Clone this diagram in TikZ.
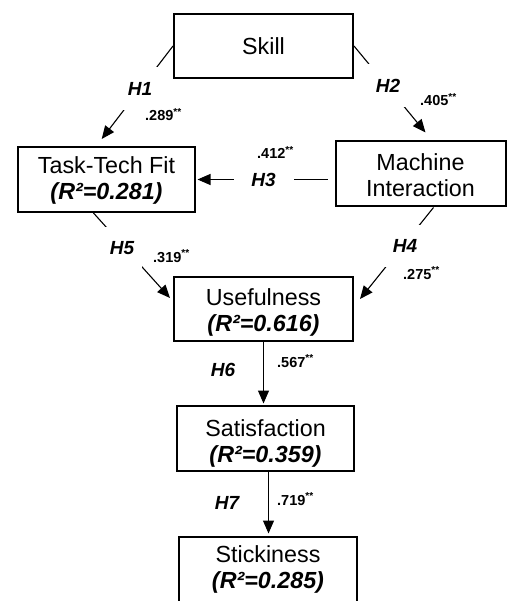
\documentclass[tikz,border=0pt]{standalone}
\usepackage{fontspec}
\setmainfont{Liberation Sans}
\usetikzlibrary{arrows.meta}
\begin{document}
\begin{tikzpicture}[x=1pt,y=-1pt,
  box/.style={draw, line width=2pt, rectangle, align=center, inner sep=0pt,
    font=\fontsize{23.3}{26}\selectfont},
  conn/.style={line width=1.1pt, -{Triangle[length=13pt,width=11pt]}},
  hlab/.style={fill=white, inner sep=0pt, font=\fontsize{19}{19}\selectfont\bfseries\itshape},
  val/.style={anchor=base west, inner sep=0pt, font=\fontsize{14.5}{14.5}\selectfont\bfseries}]
\useasboundingbox (0,0) rectangle (507,601);

% boxes
\node[box, minimum width=179pt, minimum height=64pt] (skill) at (263.5,46) {Skill};
\node[box, minimum width=177pt, minimum height=65pt] (ttf) at (106.5,179.5)
  {\rule{0pt}{20pt}Task-Tech Fit\\\textbf{\textit{(R²=0.281)}}\rule[-5pt]{0pt}{0pt}};
\node[box, minimum width=170pt, minimum height=65pt] (mi) at (420.5,174)
  {\rule{0pt}{24pt}Machine\\Interaction\rule[-5pt]{0pt}{0pt}};
\node[box, minimum width=179pt, minimum height=64pt] (use) at (263.5,309)
  {\rule{0pt}{23pt}Usefulness\\\textbf{\textit{(R²=0.616)}}\rule[-5pt]{0pt}{0pt}};
\node[box, minimum width=177pt, minimum height=65pt] (sat) at (265.5,438.5)
  {\rule{0pt}{26pt}Satisfaction\\\textbf{\textit{(R²=0.359)}}\rule[-5pt]{0pt}{0pt}};
\node[box, minimum width=178pt, minimum height=65pt] (stick) at (268,569)
  {\rule{0pt}{18pt}Stickiness\\\textbf{\textit{(R²=0.285)}}\rule[-5pt]{0pt}{0pt}};

% connectors
\draw[conn] (skill.west) -- ([xshift=-4.8pt,yshift=7pt]ttf.north);
\draw[conn] (skill.east) -- ([xshift=5pt,yshift=8pt]mi.north);
\draw[conn, shorten <=7pt] (mi.west |- ttf.east) -- ([xshift=1.5pt]ttf.east);
\draw[conn] ([xshift=-13pt]ttf.south) -- ([xshift=-3pt,yshift=11pt]use.west);
\draw[conn] ([xshift=13pt]mi.south) -- ([xshift=6pt,yshift=10pt]use.east);
\draw[conn, shorten >=1.5pt] (use.south) -- (use.south |- sat.north);
\draw[conn, shorten >=2pt] ([xshift=3pt]sat.south) -- ([xshift=3pt]sat.south |- stick.north);

% hypothesis labels
\node[hlab, minimum width=40pt, minimum height=43pt] (h1) at (140,88.5) {H1};
\node[hlab, minimum width=40pt, minimum height=43pt] (h2) at (388,85.5) {H2};
\node[hlab, minimum width=60pt, minimum height=16pt] (h3) at (263.5,180) {H3};
\node[hlab, minimum width=40pt, minimum height=42pt] (h4) at (405,246) {H4};
\node[hlab, minimum width=40pt, minimum height=42pt] (h5) at (122,248) {H5};
\node[hlab] (h6) at (223,370) {H6};
\node[hlab] (h7) at (227,503) {H7};

% path coefficients
\node[val] (v1) at (145,121) {.289\textsuperscript{**}};
\node[val] (v2) at (420,106) {.405\textsuperscript{**}};
\node[val] (v3) at (257,159) {.412\textsuperscript{**}};
\node[val] (v4) at (403,279) {.275\textsuperscript{**}};
\node[val] (v5) at (153,262) {.319\textsuperscript{**}};
\node[val] (v6) at (277,367) {.567\textsuperscript{**}};
\node[val] (v7) at (277,505) {.719\textsuperscript{**}};
\end{tikzpicture}
\end{document}
